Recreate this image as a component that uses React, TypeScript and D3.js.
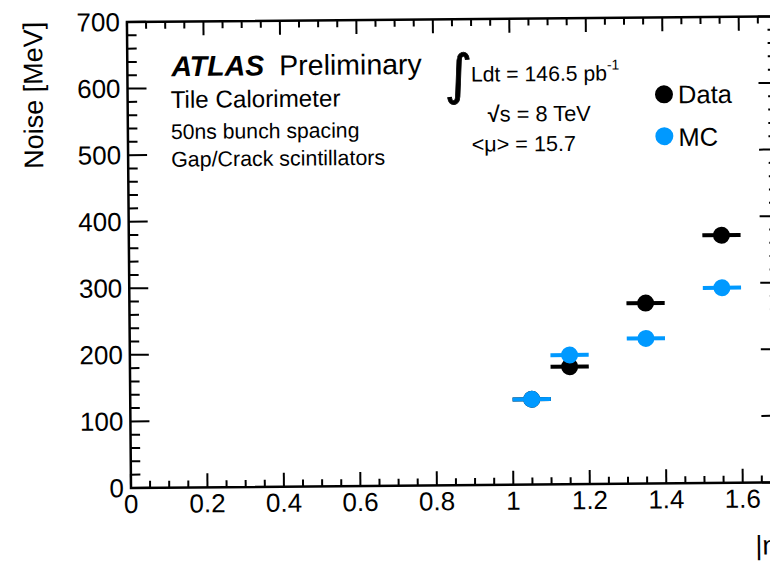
import React from "react";
import * as d3 from "d3";

const etaBins = [1.05, 1.15, 1.35, 1.55];
const binHalfWidth = 0.05;
const dataNoise = [128, 176.5, 271, 372];
const mcNoise = [128, 194, 218, 293];
const xTickLabels = ["0", "0.2", "0.4", "0.6", "0.8", "1", "1.2", "1.4", "1.6"];
const yTickLabels = ["0", "100", "200", "300", "400", "500", "600", "700"];
const seriesNames = ["Data", "MC"];
const seriesColors = ["#000000", "#0099ff"];

const W = 770;
const H = 562;
const FONT = "'Liberation Sans', Arial, Helvetica, sans-serif";

export default function App() {
  const x = d3.scaleLinear().domain([0, 1.7]).range([131, 781]);
  const y = d3.scaleLinear().domain([0, 700]).range([488, 22]);
  const [x0, x1] = x.range();
  const [y0, y1] = y.range();

  const xMinor = d3.range(0, 1.7001, 0.05).filter((v) => Math.abs(v / 0.2 - Math.round(v / 0.2)) > 1e-6);
  const yMinor = d3.range(0, 700.001, 20).filter((v) => v % 100 !== 0);
  const xMajorLen = 14, xMinorLen = 7, yMajorLen = 19, yMinorLen = 9.5;

  const series = [dataNoise, mcNoise];

  return (
    <svg width={W} height={H} style={{ position: "absolute", left: 0, top: 0, background: "#fff" }} fontFamily={FONT}>
      <rect width={W} height={H} fill="#fff" />
      <g transform="rotate(-0.5, 131, 488)">
        {/* frame */}
        <rect x={x0} y={y1} width={x1 - x0} height={y0 - y1} fill="none" stroke="#000" strokeWidth={2.5} />
        {/* x ticks bottom & top */}
        {xTickLabels.map((t) => {
          const v = +t;
          return (
            <g key={"xm" + t}>
              <line x1={x(v)} x2={x(v)} y1={y0} y2={y0 - xMajorLen} stroke="#000" strokeWidth={2} />
              <line x1={x(v)} x2={x(v)} y1={y1} y2={y1 + xMajorLen} stroke="#000" strokeWidth={2} />
              <text x={x(v)} y={513} fontSize={26} textAnchor="middle">{t}</text>
            </g>
          );
        })}
        {xMinor.map((v, i) => (
          <g key={"xn" + i}>
            <line x1={x(v)} x2={x(v)} y1={y0} y2={y0 - xMinorLen} stroke="#000" strokeWidth={2} />
            <line x1={x(v)} x2={x(v)} y1={y1} y2={y1 + xMinorLen} stroke="#000" strokeWidth={2} />
          </g>
        ))}
        {/* y ticks left & right */}
        {yTickLabels.map((t) => {
          const v = +t;
          return (
            <g key={"ym" + t}>
              <line x1={x0} x2={x0 + yMajorLen} y1={y(v)} y2={y(v)} stroke="#000" strokeWidth={2} />
              <line x1={x1} x2={x1 - yMajorLen} y1={y(v)} y2={y(v)} stroke="#000" strokeWidth={2} />
              <text x={124} y={y(v) + 9} fontSize={26} textAnchor="end">{t}</text>
            </g>
          );
        })}
        {yMinor.map((v, i) => (
          <g key={"yn" + i}>
            <line x1={x0} x2={x0 + yMinorLen} y1={y(v)} y2={y(v)} stroke="#000" strokeWidth={2} />
            <line x1={x1} x2={x1 - yMinorLen} y1={y(v)} y2={y(v)} stroke="#000" strokeWidth={2} />
          </g>
        ))}
        {/* axis titles */}
        <text transform="translate(46,21) rotate(-90)" fontSize={27} textAnchor="end">Noise [MeV]</text>
        <text x={784} y={560} fontSize={27} textAnchor="end">|η|</text>

        {/* points */}
        {series.map((vals, si) => (
          <g key={"s" + si}>
            {vals.map((v, i) => (
              <g key={i}>
                <line x1={x(etaBins[i] - binHalfWidth)} x2={x(etaBins[i] + binHalfWidth)} y1={y(v)} y2={y(v)} stroke={seriesColors[si]} strokeWidth={4} />
                <circle cx={x(etaBins[i])} cy={y(v)} r={8.5} fill={seriesColors[si]} />
              </g>
            ))}
          </g>
        ))}

        {/* labels */}
        <text x={175} y={76.5} fontSize={28.5}>
          <tspan fontWeight="bold" fontStyle="italic">ATLAS</tspan>
          <tspan dx={15}>Preliminary</tspan>
        </text>
        <text x={174} y={108.3} fontSize={24.2}>Tile Calorimeter</text>
        <text x={174} y={139.4} fontSize={21.2}>50ns bunch spacing</text>
        <text x={174} y={167} fontSize={21.4}>Gap/Crack scintillators</text>

        <text x={448} y={96} fontSize={54} fontFamily="'DejaVu Sans', sans-serif" stroke="#000" strokeWidth={0.8}>∫</text>
        <text x={474.5} y={84.6} fontSize={21.2}>
          Ldt = 146.5 pb<tspan dy={-11} fontSize={14}>-1</tspan>
        </text>
        <text x={491} y={124.8} fontSize={21.8}>
          <tspan fontWeight="bold">√</tspan>s = 8 TeV
        </text>
        <text x={474.6} y={154.7} fontSize={21.6}>&lt;μ&gt; = 15.7</text>

        {/* legend */}
        {seriesNames.map((n, i) => (
          <g key={n}>
            <circle cx={667.4} cy={99 + i * 41.8} r={9} fill={seriesColors[i]} />
            <text x={681.4} y={108.1 + i * 42.7} fontSize={25.5}>{n}</text>
          </g>
        ))}
      </g>
    </svg>
  );
}
